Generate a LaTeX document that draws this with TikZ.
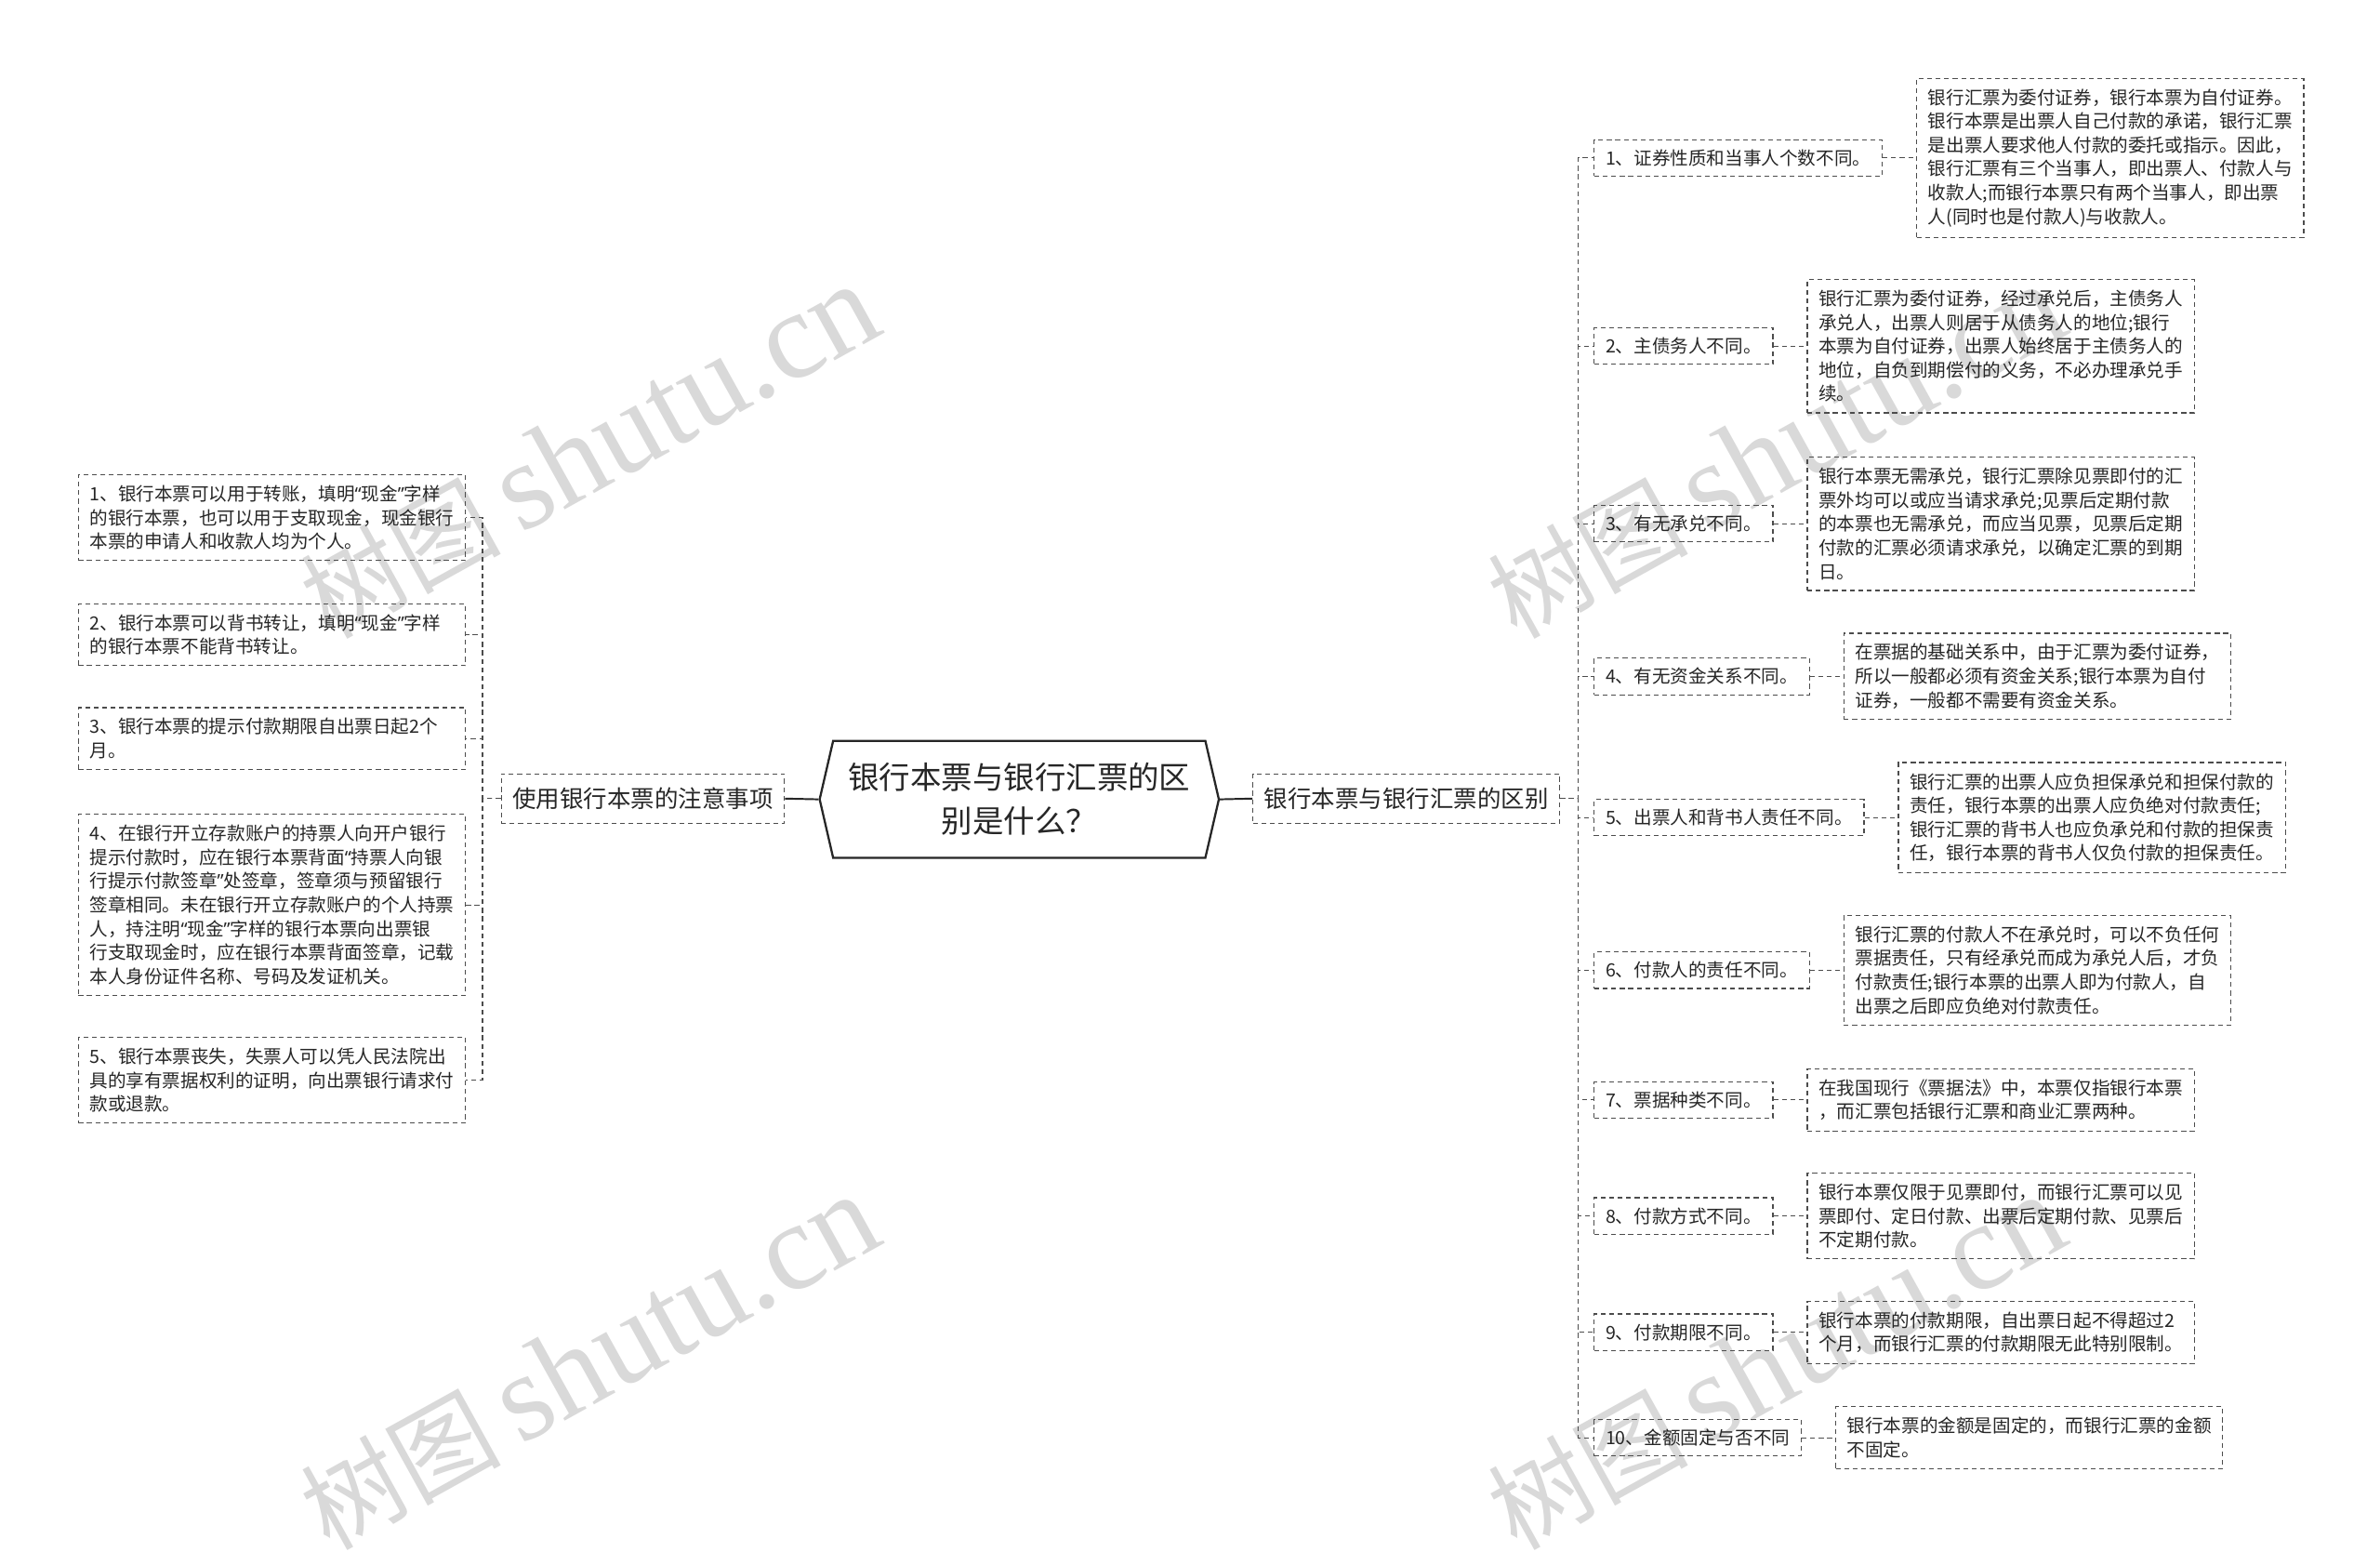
\documentclass[tikz,border=0pt]{standalone}
\usepackage{fontspec}
\setmainfont{Noto Sans CJK SC}
\newfontfamily\markfont{Liberation Serif}
\newfontfamily\quotefont{Noto Sans}
\newcommand\qopen{{\quotefont “}}
\newcommand\qclose{{\quotefont ”}}
\usetikzlibrary{positioning,shapes.symbols}

\tikzset{
  topic/.style={signal, signal to=west and east, signal pointer angle=154,
    draw=black!85, line width=1.4pt, align=center, text=black!85,
    font=\fontsize{20.5}{29}\selectfont, minimum width=263pt, minimum height=77pt},
  branch/.style={draw=black!70, line width=0.7pt, dash pattern=on 3.2pt off 2.4pt,
    text=black!85, font=\fontsize{15.6}{20}\selectfont, inner xsep=7.5pt, inner ysep=9pt},
  point/.style={draw=black!70, line width=0.7pt, dash pattern=on 3.2pt off 2.4pt,
    text=black!85, font=\fontsize{12}{15.7}\selectfont, inner xsep=7.5pt, inner ysep=6.5pt, anchor=west},
  detail/.style={point, text width=240pt, align=left, inner ysep=7pt},
  link/.style={draw=black!70, line width=0.7pt, dash pattern=on 3.2pt off 2.4pt},
  stem/.style={draw=black!85, line width=1.2pt},
  wmark/.style={text=black!15, rotate=29, anchor=base west, inner sep=0pt}
}

\begin{document}
\begin{tikzpicture}[x=1pt, y=-1pt]
  \useasboundingbox (0,0) rectangle (1568,1022);
  \fill[white] (0,0) rectangle (1568,1022);

  % watermark
  \node[wmark] (wm1) at (217,422) {{\fontsize{66}{66}\selectfont 树图}\hspace{12pt}{\markfont\fontsize{82}{82}\selectfont shutu.cn}};
  \node[wmark] (wm2) at (217,1022) {{\fontsize{66}{66}\selectfont 树图}\hspace{12pt}{\markfont\fontsize{82}{82}\selectfont shutu.cn}};
  \node[wmark] (wm3) at (999,422) {{\fontsize{66}{66}\selectfont 树图}\hspace{12pt}{\markfont\fontsize{82}{82}\selectfont shutu.cn}};
  \node[wmark] (wm4) at (999,1022) {{\fontsize{66}{66}\selectfont 树图}\hspace{12pt}{\markfont\fontsize{82}{82}\selectfont shutu.cn}};

  % centre and branches
  \node[topic] (q) at (671.5,526.5) {银行本票与银行汇票的区\\别是什么？};
  \node[branch] (rb) at (926.5,526) {银行本票与银行汇票的区别};
  \node[branch] (lb) at (423.5,526) {使用银行本票的注意事项};

  % right side
  \node[point] (r1) at (1050,104) {1、证券性质和当事人个数不同。};
  \node[point] (r2) at (1050,228) {2、主债务人不同。};
  \node[point] (r3) at (1050,345) {3、有无承兑不同。};
  \node[point] (r4) at (1050,445.5) {4、有无资金关系不同。};
  \node[point] (r5) at (1050,538.5) {5、出票人和背书人责任不同。};
  \node[point] (r6) at (1050,639) {6、付款人的责任不同。};
  \node[point] (r7) at (1050,724.5) {7、票据种类不同。};
  \node[point] (r8) at (1050,801) {8、付款方式不同。};
  \node[point] (r9) at (1050,877.5) {9、付款期限不同。};
  \node[point] (r10) at (1050,947) {10、金额固定与否不同};

  \node[detail, right=22pt of r1] (r1d) {银行汇票为委付证券，银行本票为自付证券。\\银行本票是出票人自己付款的承诺，银行汇票\\是出票人要求他人付款的委托或指示。因此，\\银行汇票有三个当事人，即出票人、付款人与\\收款人;而银行本票只有两个当事人，即出票\\人(同时也是付款人)与收款人。};
  \node[detail, right=22pt of r2] (r2d) {银行汇票为委付证券，经过承兑后，主债务人\\承兑人，出票人则居于从债务人的地位;银行\\本票为自付证券，出票人始终居于主债务人的\\地位，自负到期偿付的义务，不必办理承兑手\\续。};
  \node[detail, right=22pt of r3] (r3d) {银行本票无需承兑，银行汇票除见票即付的汇\\票外均可以或应当请求承兑;见票后定期付款\\的本票也无需承兑，而应当见票，见票后定期\\付款的汇票必须请求承兑，以确定汇票的到期\\日。};
  \node[detail, right=22pt of r4] (r4d) {在票据的基础关系中，由于汇票为委付证券，\\所以一般都必须有资金关系;银行本票为自付\\证券，一般都不需要有资金关系。};
  \node[detail, right=22pt of r5] (r5d) {银行汇票的出票人应负担保承兑和担保付款的\\责任，银行本票的出票人应负绝对付款责任;\\银行汇票的背书人也应负承兑和付款的担保责\\任，银行本票的背书人仅负付款的担保责任。};
  \node[detail, right=22pt of r6] (r6d) {银行汇票的付款人不在承兑时，可以不负任何\\票据责任，只有经承兑而成为承兑人后，才负\\付款责任;银行本票的出票人即为付款人，自\\出票之后即应负绝对付款责任。};
  \node[detail, right=22pt of r7] (r7d) {在我国现行《票据法》中，本票仅指银行本票\\，而汇票包括银行汇票和商业汇票两种。};
  \node[detail, right=22pt of r8] (r8d) {银行本票仅限于见票即付，而银行汇票可以见\\票即付、定日付款、出票后定期付款、见票后\\不定期付款。};
  \node[detail, right=22pt of r9] (r9d) {银行本票的付款期限，自出票日起不得超过2\\个月，而银行汇票的付款期限无此特别限制。};
  \node[detail, right=22pt of r10] (r10d) {银行本票的金额是固定的，而银行汇票的金额\\不固定。};

  % left side
  \node[detail, anchor=east] (l1) at (307,341) {1、银行本票可以用于转账，填明\qopen 现金\qclose 字样\\的银行本票，也可以用于支取现金，现金银行\\本票的申请人和收款人均为个人。};
  \node[detail, anchor=east] (l2) at (307,418) {2、银行本票可以背书转让，填明\qopen 现金\qclose 字样\\的银行本票不能背书转让。};
  \node[detail, anchor=east] (l3) at (307,486.5) {3、银行本票的提示付款期限自出票日起2个\\月。};
  \node[detail, anchor=east] (l4) at (307,596) {4、在银行开立存款账户的持票人向开户银行\\提示付款时，应在银行本票背面\qopen 持票人向银\\行提示付款签章\qclose 处签章，签章须与预留银行\\签章相同。未在银行开立存款账户的个人持票\\人，持注明\qopen 现金\qclose 字样的银行本票向出票银\\行支取现金时，应在银行本票背面签章，记载\\本人身份证件名称、号码及发证机关。};
  \node[detail, anchor=east] (l5) at (307,711.5) {5、银行本票丧失，失票人可以凭人民法院出\\具的享有票据权利的证明，向出票银行请求付\\款或退款。};

  \draw[stem] (q.east) -- (rb.west);
  \draw[stem] (q.west) -- (lb.east);
  \begin{scope}[link]
    \draw (rb.east) -- ++(12pt,0) |- (r1.west);
    \draw (rb.east) -- ++(12pt,0) |- (r2.west);
    \draw (rb.east) -- ++(12pt,0) |- (r3.west);
    \draw (rb.east) -- ++(12pt,0) |- (r4.west);
    \draw (rb.east) -- ++(12pt,0) |- (r5.west);
    \draw (rb.east) -- ++(12pt,0) |- (r6.west);
    \draw (rb.east) -- ++(12pt,0) |- (r7.west);
    \draw (rb.east) -- ++(12pt,0) |- (r8.west);
    \draw (rb.east) -- ++(12pt,0) |- (r9.west);
    \draw (rb.east) -- ++(12pt,0) |- (r10.west);
    \draw (r1.east) -- (r1d.west);
    \draw (r2.east) -- (r2d.west);
    \draw (r3.east) -- (r3d.west);
    \draw (r4.east) -- (r4d.west);
    \draw (r5.east) -- (r5d.west);
    \draw (r6.east) -- (r6d.west);
    \draw (r7.east) -- (r7d.west);
    \draw (r8.east) -- (r8d.west);
    \draw (r9.east) -- (r9d.west);
    \draw (r10.east) -- (r10d.west);
    \draw (lb.west) -- ++(-12pt,0) |- (l1.east);
    \draw (lb.west) -- ++(-12pt,0) |- (l2.east);
    \draw (lb.west) -- ++(-12pt,0) |- (l3.east);
    \draw (lb.west) -- ++(-12pt,0) |- (l4.east);
    \draw (lb.west) -- ++(-12pt,0) |- (l5.east);
  \end{scope}
\end{tikzpicture}
\end{document}
